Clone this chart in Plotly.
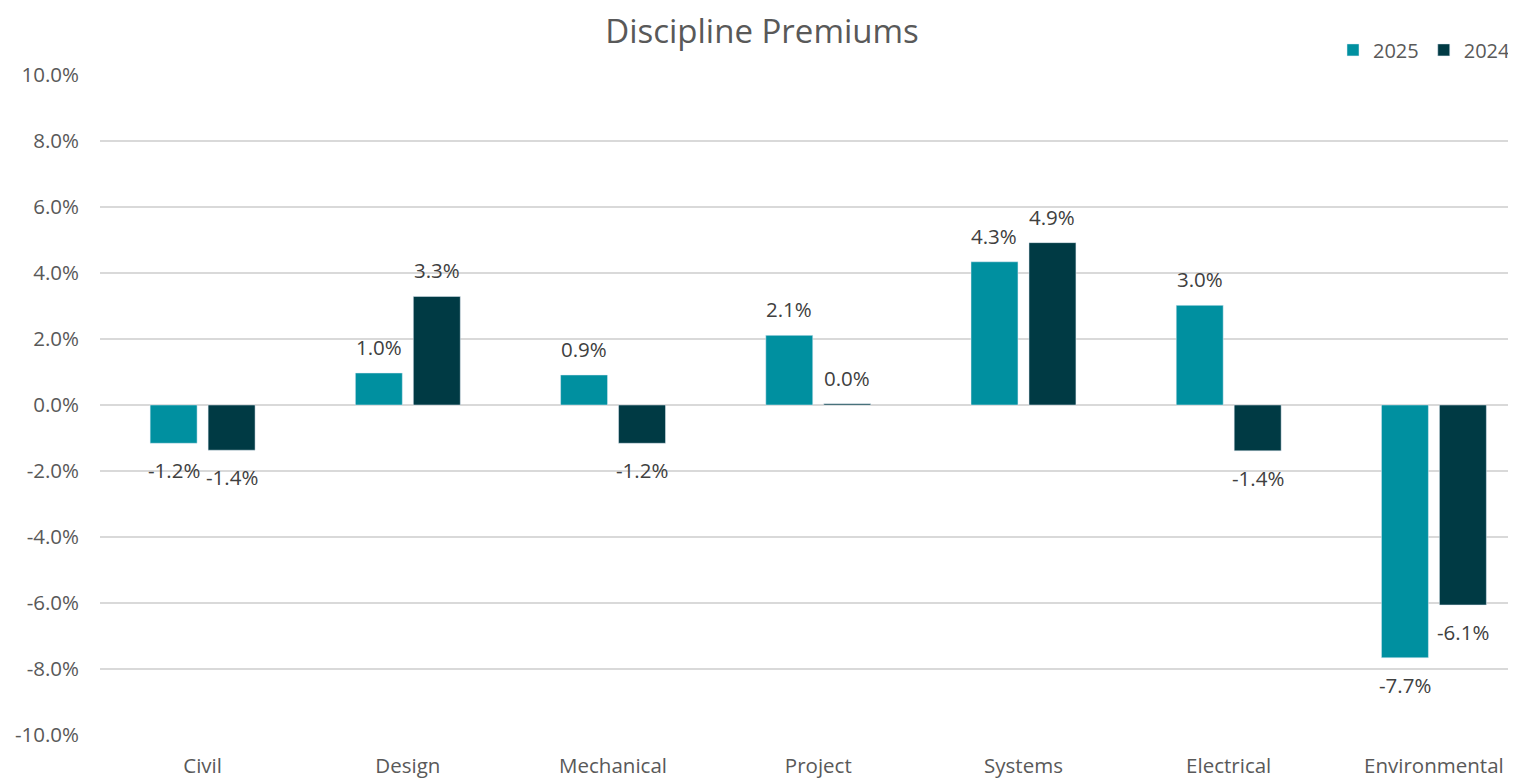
import plotly.graph_objects as go

categories = ["Civil", "Design", "Mechanical", "Project", "Systems", "Electrical", "Environmental"]
values_2025 = [-1.16, 0.97, 0.91, 2.11, 4.34, 3.02, -7.66]
values_2024 = [-1.37, 3.29, -1.16, 0.04, 4.92, -1.39, -6.06]
labels_2025 = ["-1.2%", "1.0%", "0.9%", "2.1%", "4.3%", "3.0%", "-7.7%"]
labels_2024 = ["-1.4%", "3.3%", "-1.2%", "0.0%", "4.9%", "-1.4%", "-6.1%"]
y_ticks = [-10, -8, -6, -4, -2, 0, 2, 4, 6, 8, 10]
y_tick_text = [f"{v:.1f}%" for v in y_ticks]

FONT = "Open Sans, Noto Sans, sans-serif"
C2025 = "#0090A0"
C2024 = "#003A44"

fig = go.Figure()
fig.add_trace(go.Bar(name="2025", x=categories, y=values_2025, marker_color=C2025, offsetgroup="a"))
fig.add_trace(go.Bar(name="2024", x=categories, y=values_2024, marker_color=C2024, offsetgroup="b"))

# data labels, placed via the axes with a fixed pixel offset from the bar end
annotations = []
for series_idx, (vals, labs) in enumerate([(values_2025, labels_2025), (values_2024, labels_2024)]):
    for i, (v, t) in enumerate(zip(vals, labs)):
        annotations.append(dict(
            x=i, y=v, xref="x", yref="y", text=t, showarrow=False,
            xshift=-29 if series_idx == 0 else 29,
            yshift=26 if v >= 0 else -27, yanchor="middle",
            font=dict(size=20.5, color="#404040", family=FONT),
        ))

fig.update_layout(
    width=1508, height=771,
    margin=dict(l=92, r=0, t=67, b=42),
    paper_bgcolor="white", plot_bgcolor="white",
    barmode="group", bargap=0.435, bargroupgap=0.19,
    font=dict(family=FONT, color="#595959"),
    title=dict(text="Discipline Premiums", x=0.5, xanchor="center", y=0.969, yanchor="middle",
               yref="container",
               font=dict(size=33, color="#595959", family=FONT)),
    legend=dict(orientation="h", x=1.0, xanchor="right", y=1.038, yanchor="middle",
                font=dict(size=20, color="#595959", family=FONT), traceorder="normal",
                itemwidth=30, bgcolor="rgba(0,0,0,0)"),
    annotations=annotations,
)
fig.update_xaxes(
    type="category", range=[-0.5, 6.4], showgrid=False, showline=False, ticks="",
    ticklabelstandoff=16,
    tickfont=dict(size=20.5, color="#595959", family=FONT),
)
fig.update_yaxes(
    range=[-10, 10], tickvals=y_ticks, ticktext=y_tick_text,
    showgrid=True, gridcolor="#D9D9D9", gridwidth=1.5, zeroline=True, zerolinecolor="#D9D9D9",
    zerolinewidth=1.5, showline=False, ticks="", ticklabelstandoff=20,
    tickfont=dict(size=20.5, color="#595959", family=FONT),
)

fig.write_html("out.html")
